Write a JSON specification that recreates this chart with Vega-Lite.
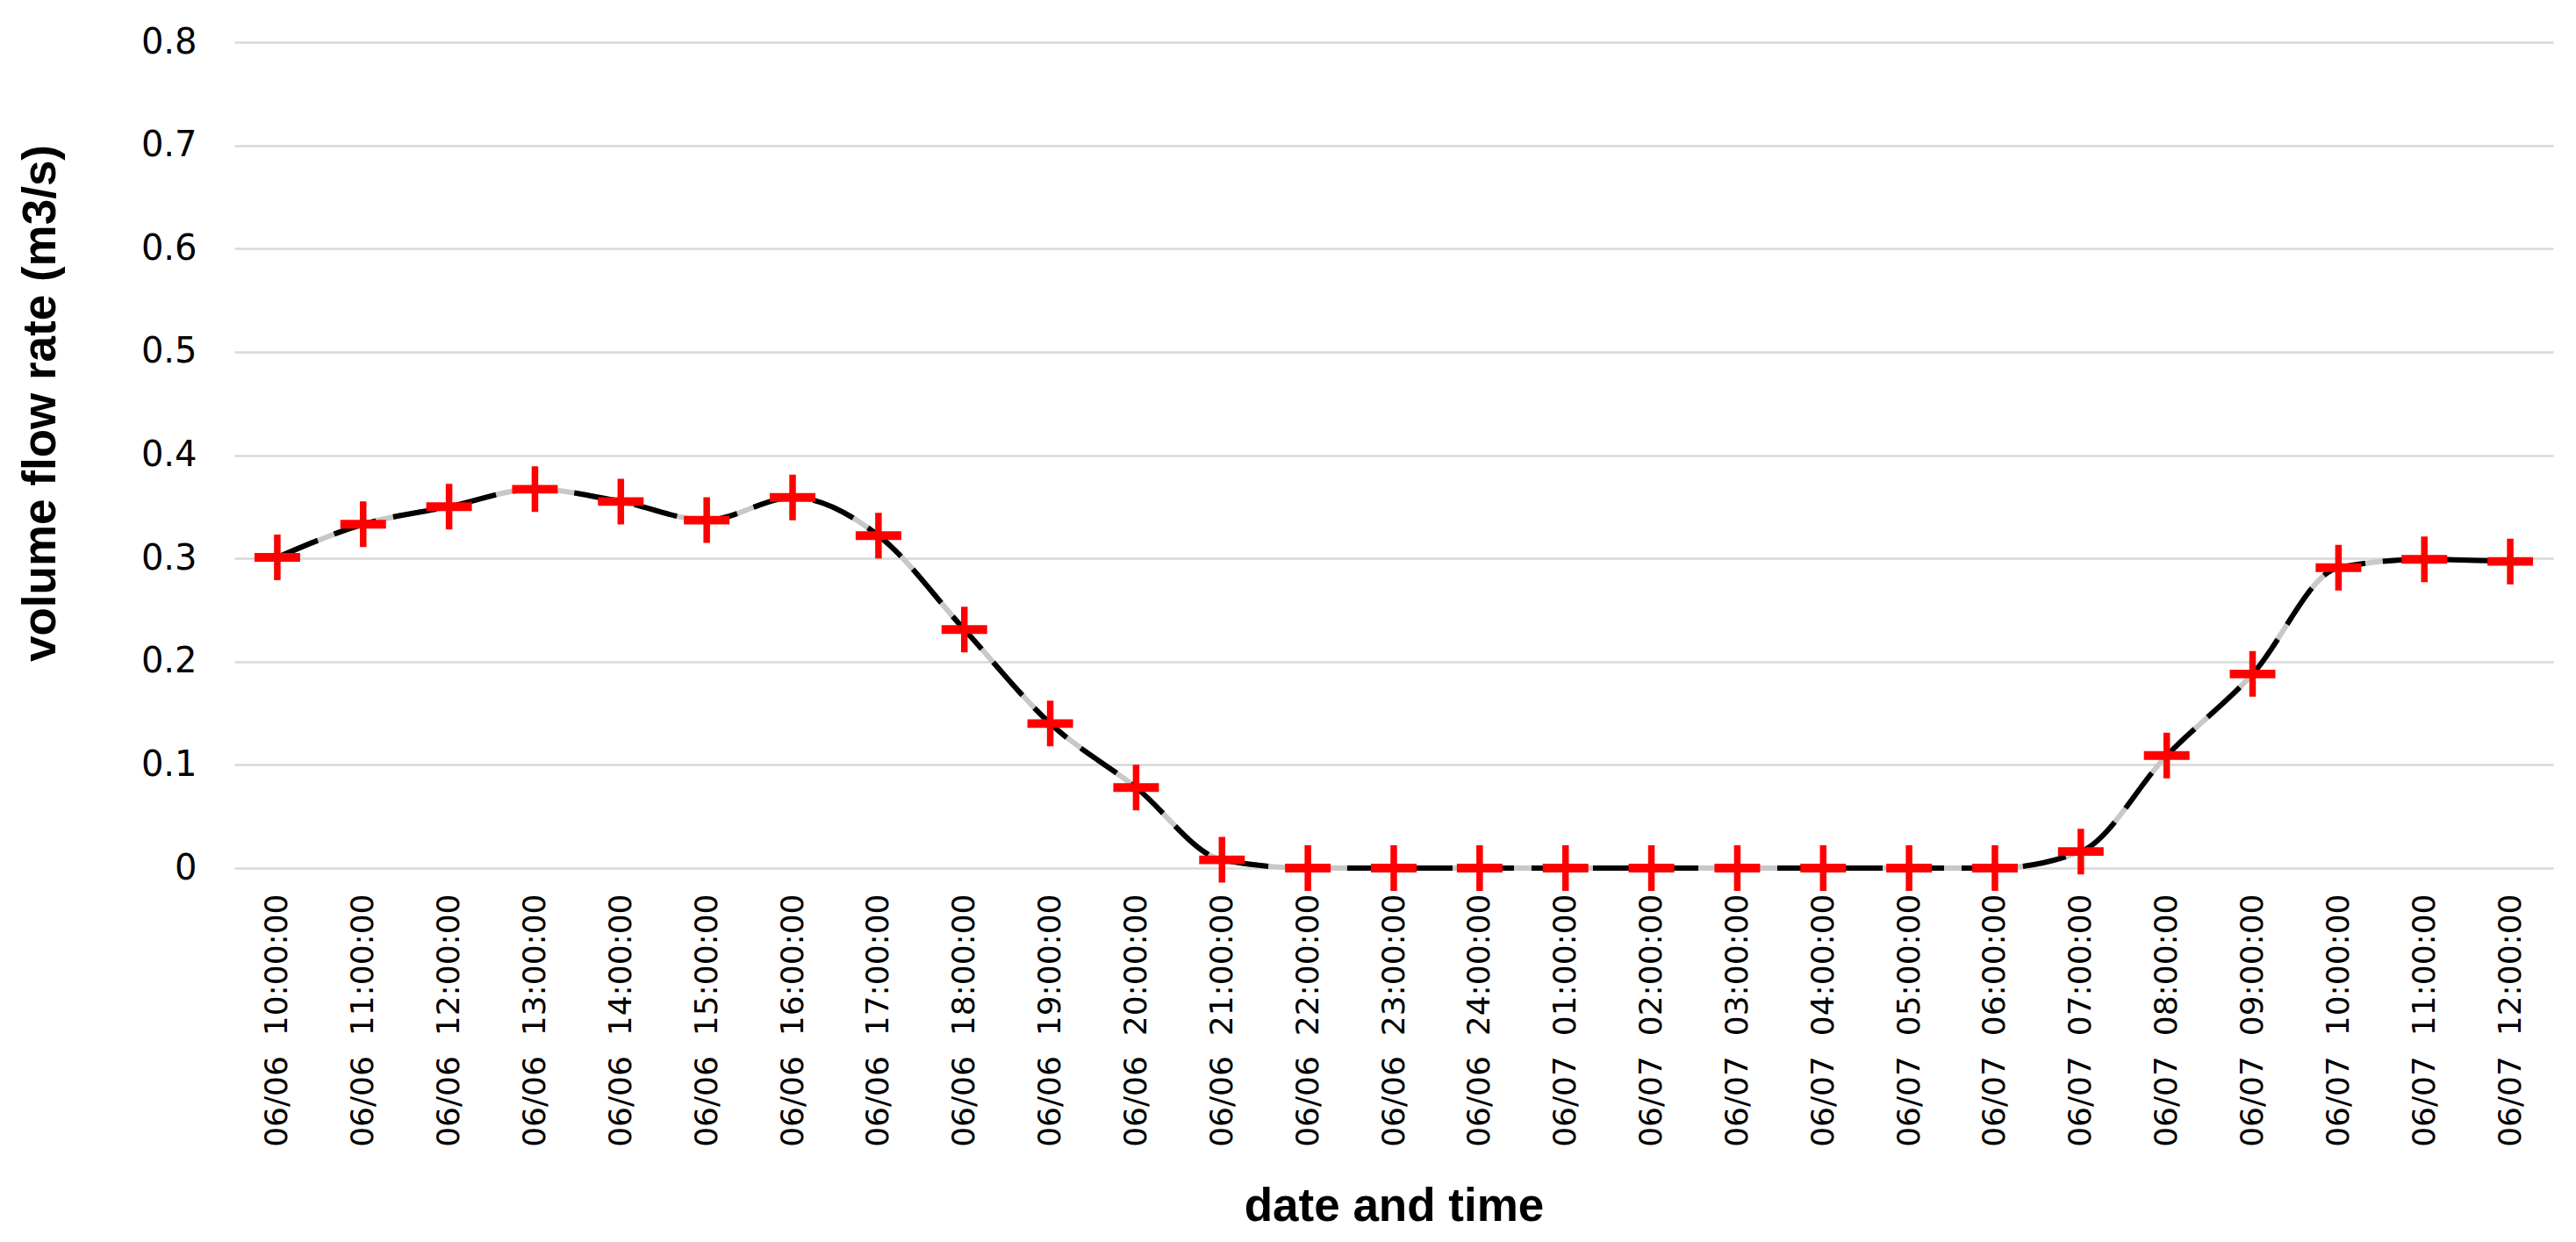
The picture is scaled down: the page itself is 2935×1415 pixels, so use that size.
{
  "$schema": "https://vega.github.io/schema/vega-lite/v6.json",
  "width": 2642,
  "height": 941,
  "autosize": {"type": "none"},
  "padding": {"left": 267, "top": 48, "right": 26, "bottom": 426},
  "background": "white",
  "config": {"view": {"stroke": null}},
  "data": {"values": [
    {"t": "06/06 10:00:00", "q": 0.301},
    {"t": "06/06 11:00:00", "q": 0.333},
    {"t": "06/06 12:00:00", "q": 0.350},
    {"t": "06/06 13:00:00", "q": 0.367},
    {"t": "06/06 14:00:00", "q": 0.355},
    {"t": "06/06 15:00:00", "q": 0.337},
    {"t": "06/06 16:00:00", "q": 0.359},
    {"t": "06/06 17:00:00", "q": 0.322},
    {"t": "06/06 18:00:00", "q": 0.231},
    {"t": "06/06 19:00:00", "q": 0.140},
    {"t": "06/06 20:00:00", "q": 0.078},
    {"t": "06/06 21:00:00", "q": 0.008},
    {"t": "06/06 22:00:00", "q": 0},
    {"t": "06/06 23:00:00", "q": 0},
    {"t": "06/06 24:00:00", "q": 0},
    {"t": "06/07 01:00:00", "q": 0},
    {"t": "06/07 02:00:00", "q": 0},
    {"t": "06/07 03:00:00", "q": 0},
    {"t": "06/07 04:00:00", "q": 0},
    {"t": "06/07 05:00:00", "q": 0},
    {"t": "06/07 06:00:00", "q": 0},
    {"t": "06/07 07:00:00", "q": 0.016},
    {"t": "06/07 08:00:00", "q": 0.109},
    {"t": "06/07 09:00:00", "q": 0.188},
    {"t": "06/07 10:00:00", "q": 0.291},
    {"t": "06/07 11:00:00", "q": 0.299},
    {"t": "06/07 12:00:00", "q": 0.297}
  ]},
  "encoding": {
    "x": {
      "field": "t", "type": "ordinal", "sort": null,
      "scale": {"type": "point", "padding": 0.5},
      "axis": {
        "title": "date and time",
        "titleFont": "Liberation Sans", "titleFontSize": 53, "titleFontWeight": "bold", "titleColor": "black",
        "titleBaseline": "alphabetic", "titleY": 401,
        "labelExpr": "replace(datum.label, ' ', '\u00a0 ')",
        "labelFont": "DejaVu Sans", "labelFontSize": 36, "labelColor": "black", "labelLimit": 1000,
        "labelAngle": -90, "labelPadding": 29, "labelOverlap": false, "labelBound": false, "labelFlush": false,
        "ticks": false, "tickSize": 0, "domain": false, "grid": false
      }
    },
    "y": {
      "field": "q", "type": "quantitative",
      "scale": {"domain": [0, 0.8], "nice": false, "zero": true},
      "axis": {
        "title": "volume flow rate (m3/s)",
        "titleFont": "Liberation Sans", "titleFontSize": 53, "titleFontWeight": "bold", "titleColor": "black",
        "titleAngle": 270, "titleAlign": "center", "titleBaseline": "alphabetic", "titleX": -205, "titleY": 411,
        "values": [0, 0.1, 0.2, 0.3, 0.4, 0.5, 0.6, 0.7, 0.8], "format": "~g",
        "labelFont": "DejaVu Sans", "labelFontSize": 40, "labelColor": "black", "labelPadding": 43,
        "ticks": false, "tickSize": 0, "domain": false,
        "grid": true, "gridColor": "#d9d9d9", "gridWidth": 2.5
      }
    }
  },
  "layer": [
    {"mark": {"type": "line", "interpolate": "monotone", "stroke": "#c8c8c8", "strokeWidth": 6}},
    {"mark": {"type": "line", "interpolate": "monotone", "stroke": "black", "strokeWidth": 6, "strokeDash": [50, 20]}},
    {"mark": {"type": "point", "filled": true, "color": "#ff0000", "opacity": 1, "size": 2704,
      "shape": "M-1,-0.19H-0.144V-1H0.144V-0.19H1V0.19H0.144V1H-0.144V0.19H-1Z"}}
  ]
}
